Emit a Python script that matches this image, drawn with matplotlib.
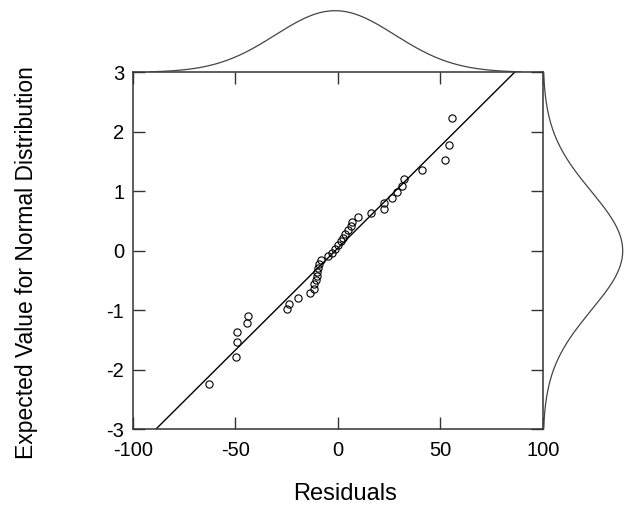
import numpy as np
import matplotlib
matplotlib.use("Agg")
import matplotlib.pyplot as plt

plt.rcParams['font.family'] = ['Liberation Sans', 'DejaVu Sans']
plt.rcParams['axes.unicode_minus'] = False

# residuals (sorted) and their expected normal values
residuals = [-62.8, -49.6, -49.3, -48.9, -44.1, -43.9, -24.9, -24.0, -19.6, -13.4,
             -11.6, -11.4, -10.6, -10.2, -9.9, -9.4, -8.9, -8.0, -4.6, -2.9,
             -1.3, 0.3, 1.5, 2.4, 3.6, 5.2, 6.3, 6.8, 10.1, 16.1,
             22.6, 22.6, 26.3, 28.8, 31.5, 32.5, 41.0, 52.2, 54.5, 55.6]
expected = [-2.24, -1.78, -1.53, -1.36, -1.21, -1.09, -0.98, -0.89, -0.80, -0.71,
            -0.64, -0.56, -0.49, -0.42, -0.35, -0.29, -0.22, -0.16, -0.09, -0.03,
            0.03, 0.09, 0.16, 0.22, 0.29, 0.35, 0.42, 0.49, 0.56, 0.64,
            0.71, 0.80, 0.89, 0.98, 1.09, 1.21, 1.36, 1.53, 1.78, 2.24]

x_ticks = [-100, -50, 0, 50, 100]
y_ticks = [-3, -2, -1, 0, 1, 2, 3]

res = np.array(residuals)
mu = res.mean()
sd = res.std(ddof=1)

W, H = 628, 509
fig = plt.figure(figsize=(W / 100, H / 100), dpi=100)

# main axes in pixel terms
left, right, top, bottom = 132.7, 542.7, 72.3, 429.3
ax = fig.add_axes([left / W, 1 - bottom / H, (right - left) / W, (bottom - top) / H])

z = np.linspace(-3, 3, 200)
ax.plot(mu + sd * z, z, color='black', lw=1.0)
ax.plot(residuals, expected, 'o', mfc='none', mec='black', ms=5.2, mew=0.8)

ax.set_xlim(-100, 100)
ax.set_ylim(-3, 3)
ax.set_xticks(x_ticks)
ax.set_yticks(y_ticks)
ax.tick_params(direction='in', length=8.5, width=1, labelsize=14.5,
               top=True, right=True, colors='#333333', labelcolor='black')
ax.tick_params(axis='y', pad=6)
ax.tick_params(axis='x', pad=8.4)  # keeps "-100" clear of "-3"
for s in ax.spines.values():
    s.set_color('#333333')
    s.set_linewidth(1.1)

# axis titles placed directly in figure pixels
fig.text(345 / W, 1 - 494 / H, 'Residuals', fontsize=17, ha='center', va='center')
fig.text(27 / W, 1 - 263 / H, 'Expected Value for Normal Distribution', fontsize=16.5,
         rotation=90, ha='center', va='center')

# marginal normal curves
axt = fig.add_axes([left / W, 1 - top / H, (right - left) / W, top / H])
xs = np.linspace(mu - 3.1 * sd, mu + 3.1 * sd, 300)
pdf_x = np.exp(-0.5 * ((xs - mu) / sd) ** 2)
axt.plot(xs, pdf_x, color='#444444', lw=0.9)
axt.set_xlim(-100, 100)
axt.set_ylim(0, 1 / 0.852)
axt.axis('off')

axr = fig.add_axes([right / W, 1 - bottom / H, (W - right) / W, (bottom - top) / H])
pdf_z = np.exp(-0.5 * z ** 2)
axr.plot(pdf_z, z, color='#444444', lw=0.9)
axr.set_ylim(-3, 3)
axr.set_xlim(0, 1 / 0.938)
axr.axis('off')

fig.savefig('out.png', dpi=100)
